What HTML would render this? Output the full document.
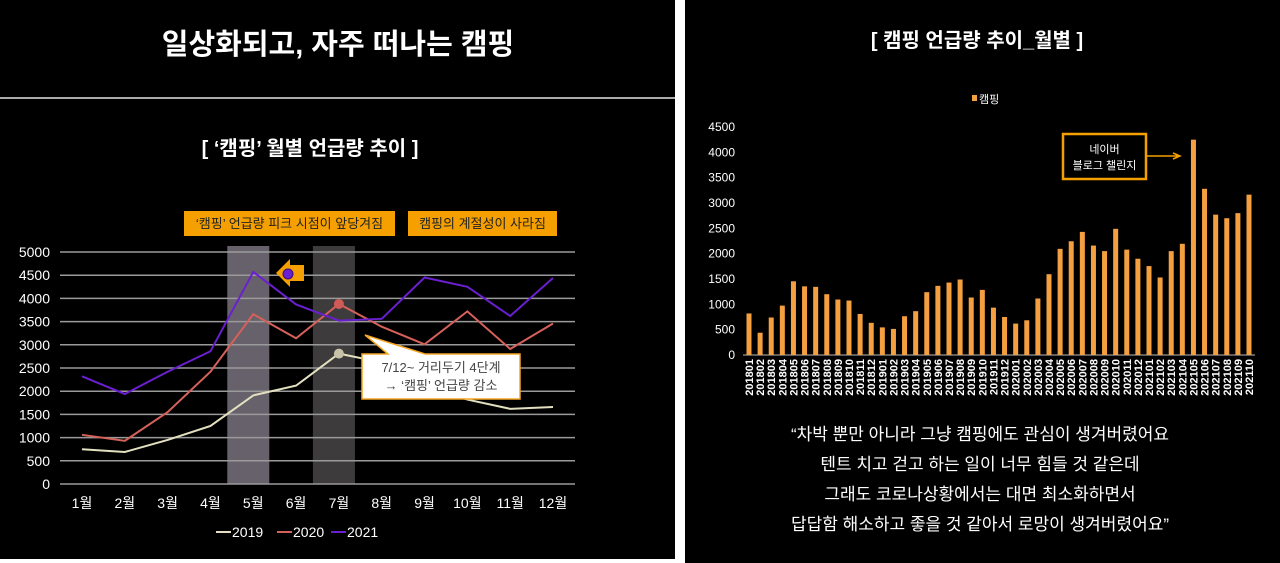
<!DOCTYPE html>
<html><head><meta charset="utf-8">
<style>
html,body{margin:0;padding:0;background:#000;}
svg{display:block;font-family:"Liberation Sans","Noto Sans CJK KR",sans-serif;}
</style></head>
<body>
<svg id="s" width="1280" height="563" viewBox="0 0 1280 563" xmlns="http://www.w3.org/2000/svg">
<rect x="0" y="0" width="1280" height="563" fill="#000"/>
<rect x="675" y="0" width="10" height="563" fill="#fff"/>
<rect x="0" y="559" width="680" height="4" fill="#fff"/>
<line x1="0" y1="98" x2="675" y2="98" stroke="#aaa" stroke-width="2"/>
<text x="338" y="54" fill="#fff" font-size="29" font-weight="bold" text-anchor="middle">일상화되고, 자주 떠나는 캠핑</text>
<text x="310" y="155" fill="#fff" font-size="20" font-weight="bold" text-anchor="middle">[ ‘캠핑’ 월별 언급량 추이 ]</text>
<text x="977" y="47" fill="#fff" font-size="20" font-weight="bold" text-anchor="middle">[ 캠핑 언급량 추이_월별 ]</text>
<g id="left"></g>
<g id="right"></g>
<g fill="#fff" font-size="17" text-anchor="middle">
<text x="980" y="440">“차박 뿐만 아니라 그냥 캠핑에도 관심이 생겨버렸어요</text>
<text x="980" y="470">텐트 치고 걷고 하는 일이 너무 힘들 것 같은데</text>
<text x="980" y="500">그래도 코로나상황에서는 대면 최소화하면서</text>
<text x="980" y="530">답답함 해소하고 좋을 것 같아서 로망이 생겨버렸어요”</text>
</g>
</svg>
<script>
const months = ['1월','2월','3월','4월','5월','6월','7월','8월','9월','10월','11월','12월'];
const s2019 = [750,690,950,1250,1910,2120,2810,2620,2100,1820,1620,1660];
const s2020 = [1060,930,1550,2420,3660,3140,3880,3390,3010,3720,2910,3460];
const s2021 = [2320,1940,2420,2860,4570,3870,3520,3560,4450,4250,3620,4440];
const leftTicks = [0,500,1000,1500,2000,2500,3000,3500,4000,4500,5000];

const periods = ['201801','201802','201803','201804','201805','201806','201807','201808','201809','201810','201811','201812',
'201901','201902','201903','201904','201905','201906','201907','201908','201909','201910','201911','201912',
'202001','202002','202003','202004','202005','202006','202007','202008','202009','202010','202011','202012',
'202101','202102','202103','202104','202105','202106','202107','202108','202109','202110'];
const camping = [820,440,740,975,1455,1355,1345,1200,1095,1075,810,635,
545,515,765,865,1240,1365,1430,1490,1135,1285,935,750,
620,685,1115,1595,2095,2245,2430,2160,2050,2490,2080,1900,
1755,1530,2050,2195,4250,3280,2770,2700,2800,3165];
const rightTicks = [0,500,1000,1500,2000,2500,3000,3500,4000,4500];

const NS='http://www.w3.org/2000/svg';
function mk(parent,tag,attrs,text){const e=document.createElementNS(NS,tag);for(const k in attrs)e.setAttribute(k,attrs[k]);if(text!==undefined)e.textContent=text;parent.appendChild(e);return e;}

// LEFT CHART
const L=document.getElementById('left');
const lx=i=>82+i*(553-82)/11;
const ly=v=>484-v*(484-252)/5000;
let b=mk(L,'rect',{x:lx(4)-26,y:246,width:42,height:238,fill:'#67616b'});


b=mk(L,'rect',{x:lx(6)-26,y:246,width:42,height:238,fill:'#3d3b3b'});


leftTicks.forEach(t=>{
  let g=mk(L,'line',{x1:60,x2:575,y1:ly(t),y2:ly(t),stroke:'#9a9a9a','stroke-width':1.5});
  
  
  let tx=mk(L,'text',{x:50,y:ly(t)+5,fill:'#fff','font-size':14,'text-anchor':'end'},t);
  
  
});
months.forEach((m,i)=>{
  let tx=mk(L,'text',{x:lx(i),y:508,fill:'#fff','font-size':14,'text-anchor':'middle'},m);
  
  
});
const series=[[s2019,'#e3e0c0','2019'],[s2020,'#d6615a','2020'],[s2021,'#6a1fd0','2021']];
series.forEach(([d,c,n])=>{
  let p=mk(L,'polyline',{points:d.map((v,i)=>lx(i)+','+ly(v)).join(' '),fill:'none',stroke:c,'stroke-width':2});
  
  
});
let dot=mk(L,'circle',{cx:lx(6),cy:ly(s2019[6]),r:5,fill:'#c8c3a8'});


dot=mk(L,'circle',{cx:lx(6),cy:ly(s2020[6]),r:5,fill:'#d05a55'});


let co=mk(L,'path',{d:'M365,335 L388,354 L362,354 L362,399 L520,399 L520,354 L425,354 Z',fill:'#fff',stroke:'#f5a623','stroke-width':1.5});


mk(L,'text',{x:441,y:372,fill:'#444','font-size':13,'text-anchor':'middle'},'7/12~ 거리두기 4단계');
mk(L,'text',{x:441,y:390,fill:'#444','font-size':13,'text-anchor':'middle'},'→ ‘캠핑’ 언급량 감소');
let ar=mk(L,'path',{d:'M276,273 L290,259 L290,265 L304,265 L304,281 L290,281 L290,287 Z',fill:'#f5a000'});


mk(L,'circle',{cx:288,cy:274,r:5,fill:'#6a1fd0',stroke:'#3a0a80'});
let lb=mk(L,'rect',{x:184,y:211,width:211,height:25,fill:'#f5a000'});


mk(L,'text',{x:289.5,y:228,fill:'#222','font-size':13,'text-anchor':'middle'},'‘캠핑’ 언급량 피크 시점이 앞당겨짐');
lb=mk(L,'rect',{x:408,y:211,width:149,height:25,fill:'#f5a000'});


mk(L,'text',{x:482.5,y:228,fill:'#222','font-size':13,'text-anchor':'middle'},'캠핑의 계절성이 사라짐');
[[216,'#e3e0c0','2019'],[277,'#d6615a','2020'],[331,'#6a1fd0','2021']].forEach(([x,c,n])=>{
  let g=mk(L,'g',{});
  
  
  mk(g,'line',{x1:x,x2:x+15,y1:532,y2:532,stroke:c,'stroke-width':2});
  mk(g,'text',{x:x+16,y:537,fill:'#fff','font-size':14},n);
});

// RIGHT CHART
const R=document.getElementById('right');
const rx=i=>749+i*(1249-749)/45;
const ry=v=>355-v*(355-127)/4500;
rightTicks.forEach(t=>{
  let tx=mk(R,'text',{x:735,y:ry(t)+4,fill:'#fff','font-size':12,'text-anchor':'end'},t);
  
  
});
let ax=mk(R,'line',{x1:743,x2:1255,y1:355,y2:355,stroke:'#bbb','stroke-width':1});


camping.forEach((v,i)=>{
  let r=mk(R,'rect',{x:rx(i)-2.5,y:ry(v),width:5,height:355-ry(v),fill:'#f5a040'});
  
  
  let tx=mk(R,'text',{x:0,y:0,fill:'#fff','font-size':11,'font-weight':'bold','text-anchor':'end',transform:'translate('+(rx(i)+4)+',359) rotate(-90)'},periods[i]);
  
  
});
let lg=mk(R,'g',{});


mk(lg,'rect',{x:972,y:95,width:5,height:6,fill:'#f5a040'});
mk(lg,'text',{x:979,y:103,fill:'#fff','font-size':11},'캠핑');
let nb=mk(R,'rect',{x:1063,y:134,width:83,height:45,fill:'#000',stroke:'#f5a000','stroke-width':2.5});


mk(R,'text',{x:1104.5,y:153,fill:'#fff','font-size':11,'text-anchor':'middle'},'네이버');
mk(R,'text',{x:1104.5,y:169,fill:'#fff','font-size':11,'text-anchor':'middle'},'블로그 챌린지');
let al=mk(R,'path',{d:'M1147,156 L1178,156 M1173,153 L1180,156 L1173,159',stroke:'#f5a000','stroke-width':1.5,fill:'none'});


</script>
</body></html>
